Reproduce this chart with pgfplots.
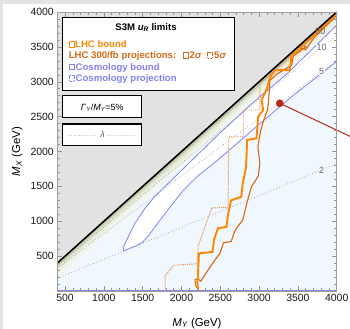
\documentclass[border=0pt]{standalone}
\usepackage{pgfplots}
\pgfplotsset{compat=1.18}
\usepackage{fontspec}
\setmainfont{Liberation Sans}
\definecolor{bgray}{RGB}{228,228,228}
\definecolor{upgray}{RGB}{226,226,226}
\definecolor{abl}{RGB}{240,247,253}
\definecolor{cblue}{RGB}{130,130,245}
\definecolor{lhc}{RGB}{255,135,0}
\definecolor{lhcp}{RGB}{214,104,22}
\definecolor{lhcd}{RGB}{232,150,80}
\definecolor{dred}{RGB}{185,40,30}
\definecolor{gA}{RGB}{172,182,148}
\definecolor{gB}{RGB}{198,206,176}
\definecolor{gC}{RGB}{220,226,204}
\definecolor{gD}{RGB}{234,239,224}
\definecolor{gE}{RGB}{241,245,238}
\begin{document}
\begin{tikzpicture}[x=1bp,y=1bp]
\useasboundingbox (0,0) rectangle (350,329);
\fill[bgray] (0,0) rectangle (350,329);
\fill[white] (3.3,0) rectangle (350,325);
\begin{axis}[
  at={(57.3bp,38bp)}, anchor=south west,
  width=279.4bp, height=279bp, scale only axis,
  xmin=400, xmax=4000, ymin=0, ymax=4000,
  clip=false, axis on top,
  xtick={500,1000,...,4000}, ytick={500,1000,...,4000},
  minor xtick={400,500,...,4000}, minor ytick={0,100,...,4000},
  tick align=inside, major tick length=4.5bp, minor tick length=2.5bp,
  tick style={draw=gray!85, line width=0.5bp},
  axis line style={draw=gray!75, line width=0.6bp},
  ticklabel style={font=\fontsize{10.5}{12}\selectfont, text=black!90},
  /pgf/number format/assume math mode=true,
  /pgf/number format/1000 sep={},
  xlabel={\textit{M}\textsubscript{\itshape Y} (GeV)},
  ylabel={\textit{M}\textsubscript{\itshape X} (GeV)},
  label style={font=\fontsize{11.5}{13}\selectfont},
  xlabel style={at={(axis description cs:0.5,-0.115)}, anchor=center},
  ylabel style={at={(axis description cs:-0.144,0.5)}, anchor=center},
]
% regions
\addplot[fill=abl, draw=none] coordinates {(400,0)(4000,0)(4000,4000)(400,400)} -- cycle;
\addplot[fill=upgray, draw=none] coordinates {(400,400)(4000,4000)(400,4000)} -- cycle;
% cosmology allowed sliver
\addplot[fill=white, draw=none] coordinates {(1250,575)(1258,650)(1296,735)(1400,970)(1530,1185)(1660,1360)(1830,1545)(2020,1750)(2250,2000)(2490,2260)(2900,2680)(3370,3125)(4000,3810)
 (4000,3290)(3400,2770)(3000,2390)(2470,1880)(2200,1640)(2020,1440)(1850,1200)(1700,980)(1580,800)(1500,700)(1420,650)(1330,610)} -- cycle;
% shading near the diagonal
\addplot[fill=gE, draw=none] coordinates {(400,400)(4000,4000)(4000,3790)(400,190)} -- cycle;
\addplot[fill=gD, draw=none] coordinates {(400,400)(4000,4000)(4000,3860)(400,260)} -- cycle;
\addplot[fill=gC, draw=none] coordinates {(400,400)(4000,4000)(4000,3910)(400,310)} -- cycle;
\addplot[fill=gB, draw=none] coordinates {(400,400)(4000,4000)(4000,3950)(400,350)} -- cycle;
\addplot[fill=gA, draw=none] coordinates {(400,400)(4000,4000)(4000,3978)(400,378)} -- cycle;
% lambda contours
\addplot[gray!90, line width=0.9bp, line cap=round, dash pattern=on 0pt off 3bp] coordinates {(400,393.6)(4000,3936)};
\addplot[gray!90, line width=0.9bp, line cap=round, dash pattern=on 0pt off 3bp] coordinates {(400,366.8)(4000,3668)};
\addplot[gray!90, line width=0.9bp, line cap=round, dash pattern=on 0pt off 3bp] coordinates {(400,330.4)(4000,3304)};
\addplot[gray!90, line width=0.9bp, line cap=round, dash pattern=on 0pt off 3bp] coordinates {(400,182.4)(4000,1824)};
% cosmology bound contour
\addplot[cblue, line width=0.8bp] coordinates {(4000,3810)(3370,3125)(2900,2680)(2490,2260)(2250,2000)(2020,1750)(1830,1545)(1660,1360)(1530,1185)(1400,970)(1296,735)(1258,650)(1250,575)(1330,610)(1420,650)(1500,700)(1580,800)(1700,980)(1850,1200)(2020,1440)(2200,1640)(2470,1880)(3000,2390)(3400,2770)(4000,3290)};
\addplot[cblue, line width=1bp] coordinates {(400,8)(4000,8)};
% LHC 5 sigma projection
\addplot[lhcd, line width=0.9bp, dash pattern=on 1.2bp off 0.9bp] coordinates {(1790,0)(1790,220)(1900,370)(2200,390)(2215,650)(2390,1190)(2600,1200)(2610,2210)(2796,2212)(2796,2595)(3010,2595)(3010,2990)(3100,3060)(3300,3260)(3600,3560)(4000,3960)};
% LHC 2 sigma projection
\addplot[lhcp, line width=1.1bp] coordinates {(2225,0)(2180,90)(2175,160)(2210,175)(2250,140)(2330,280)(2410,410)(2500,550)(2540,690)(2640,710)(2690,870)(2790,1020)(2840,1250)(2900,1490)(2990,1650)(3010,1830)(2985,2070)(3020,2300)(3060,2450)(3110,2600)(3120,2700)(3130,2850)(3140,3020)(3230,3110)(3420,3240)(3440,3370)(3520,3430)(3600,3500)(3560,3540)(3520,3490)(3600,3460)(3700,3620)(3850,3790)(4000,3950)};
% LHC bound
\addplot[lhc, line width=1.9bp] coordinates {(2215,0)(2205,120)(2215,300)(2225,540)(2400,560)(2420,740)(2470,900)(2580,920)(2600,1100)(2640,1300)(2770,1350)(2790,1550)(2830,1760)(2840,1970)(2845,2165)(2967,2189)(2988,2499)(3053,2595)(3032,2738)(3100,2900)(3140,3060)(3200,3165)(3396,3168)(3417,3384)(3500,3440)(3546,3503)(3700,3660)(3850,3830)(4000,3985)};
% diagonal
\addplot[black, line width=1.5bp] coordinates {(400,400)(4000,4000)};
% benchmark point
\addplot[dred, line width=1bp] coordinates {(3267,2691)(4300,2150)};
\addplot[dred, only marks, mark=*, mark size=3.6bp] coordinates {(3267,2691)};
% contour labels
\node[font=\fontsize{9}{10}\selectfont, text=gray!80!black, inner sep=0.5bp] at (axis cs:3790,3725) {50};
\node[font=\fontsize{9}{10}\selectfont, text=gray!80!black, fill=white, inner sep=0.5bp] at (axis cs:3807,3495) {10};
\node[font=\fontsize{9}{10}\selectfont, text=gray!80!black, fill=white, inner sep=0.5bp] at (axis cs:3807,3150) {5};
\node[font=\fontsize{9}{10}\selectfont, text=gray!80!black, fill=abl, inner sep=0.5bp] at (axis cs:3807,1736) {2};
\end{axis}
% legend box 1
\draw[black, line width=1.3bp, fill=white] (62.7,238.5) rectangle (234.5,311.7);
\node[anchor=base, font=\fontsize{9.6}{11}\selectfont\bfseries] at (146,298.5) {S3M \textit{u}\textsubscript{\itshape R} limits};
\draw[lhc, line width=0.8bp] (68.9,282) rectangle ++(5.2,5.2);
\node[anchor=base west, inner sep=0pt, text=lhc, font=\fontsize{9.6}{11}\selectfont\bfseries] at (75,281.5) {LHC bound};
\node[anchor=base west, inner sep=0pt, text=lhcp, font=\fontsize{9.6}{11}\selectfont\bfseries] at (68.7,270.5) {LHC 300/fb projections:};
\draw[lhcp, line width=0.8bp] (183,271) rectangle ++(5.2,5.2);
\node[anchor=base west, inner sep=0pt, text=lhcp, font=\fontsize{9.6}{11}\selectfont\bfseries] at (189.5,270.5) {2\textit{σ}};
\draw[lhcp, line width=0.6bp, dash pattern=on 0.9bp off 0.7bp] (207.5,271) rectangle ++(5.2,5.2);
\node[anchor=base west, inner sep=0pt, text=lhcp, font=\fontsize{9.6}{11}\selectfont\bfseries] at (214,270.5) {5\textit{σ}};
\draw[cblue, line width=0.8bp] (68.9,259.5) rectangle ++(5.2,5.2);
\node[anchor=base west, inner sep=0pt, text=cblue, font=\fontsize{9.6}{11}\selectfont\bfseries] at (75.5,259) {Cosmology bound};
\draw[cblue, line width=0.6bp, dash pattern=on 0.9bp off 0.7bp] (68.9,248) rectangle ++(5.2,5.2);
\node[anchor=base west, inner sep=0pt, text=cblue, font=\fontsize{9.6}{11}\selectfont\bfseries] at (75.5,247.5) {Cosmology projection};
% legend box 2
\draw[black, line width=1.3bp, fill=white] (62.7,211.3) rectangle (141.7,233.3);
\node[anchor=base, font=\fontsize{9}{10}\selectfont] at (102.2,218.5) {\textit{Γ}\textsubscript{\itshape Y}/\textit{M}\textsubscript{\itshape Y}=5\%};
% legend box 3
\draw[black, line width=1.3bp, fill=white] (62.7,183.3) rectangle (141.7,205);
\draw[gray!90, line width=0.8bp, line cap=round, dash pattern=on 0pt off 2.6bp] (69,193.6) -- (97,193.6);
\draw[gray!90, line width=0.8bp, line cap=round, dash pattern=on 0pt off 2.6bp] (108,193.6) -- (136,193.6);
\node[font=\fontsize{9}{10}\selectfont, text=gray!70!black] at (102.5,194.3) {\textit{λ}};
\end{tikzpicture}
\end{document}
